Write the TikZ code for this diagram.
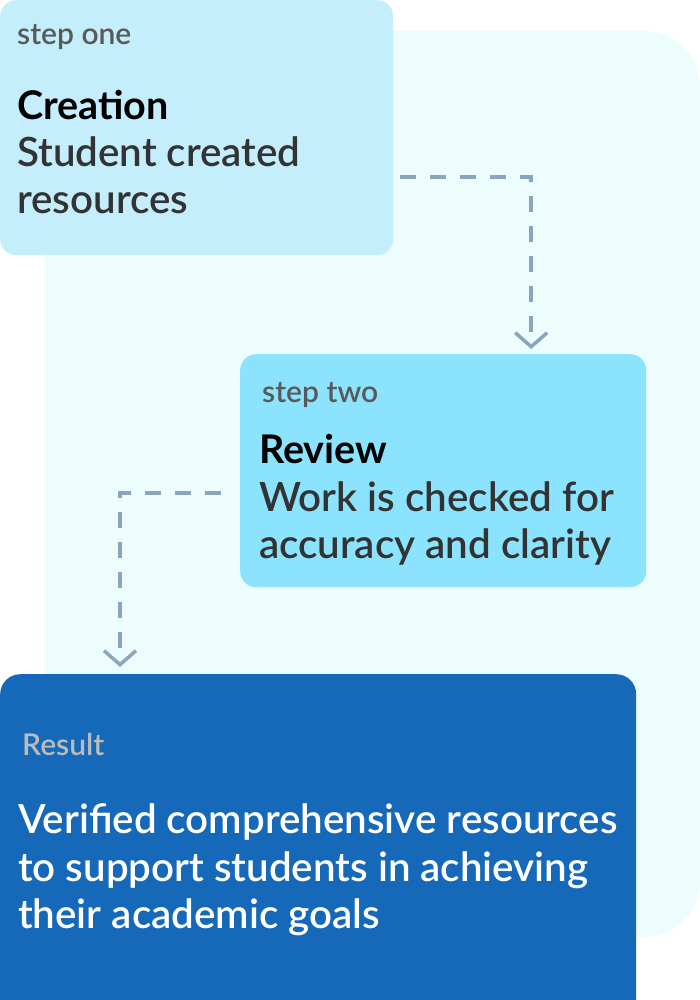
\documentclass[tikz,border=0pt]{standalone}
\usepackage{fontspec}
\setmainfont{Lato}
\newfontfamily\latosemi{Lato Semibold}
\usetikzlibrary{arrows.meta}
\definecolor{panel}{HTML}{EDFCFD}
\definecolor{boxone}{HTML}{C4EEFC}
\definecolor{boxtwo}{HTML}{8CE3FD}
\definecolor{boxres}{HTML}{1668B8}
\definecolor{flowc}{HTML}{8AA5BF}
\definecolor{lblc}{HTML}{595959}
\definecolor{ink}{HTML}{333333}
\definecolor{reslbl}{HTML}{BBBBBB}
\begin{document}
\begin{tikzpicture}[x=1pt,y=-1pt,
  box/.style={rounded corners=16pt,inner sep=0pt,anchor=north west},
  lbl/.style={anchor=base west,inner sep=0pt,text=lblc,font=\latosemi\fontsize{30}{36}\selectfont},
  ttl/.style={anchor=base west,inner sep=0pt,font=\bfseries\fontsize{39.5}{47}\selectfont},
  txt/.style={anchor=base west,inner sep=0pt,text=ink,font=\latosemi\fontsize{40.3}{48}\selectfont},
  flow/.style={draw=flowc,line width=3.5pt,dash pattern=on 16pt off 14pt,-{Straight Barb[length=14pt,width=32pt]}}]
\clip (0,0) rectangle (700,1000);
\fill[panel,rounded corners=55pt] (45,31) rectangle (700,937);
%
\node[box,fill=boxone,minimum width=393pt,minimum height=255pt] (one) at (0,0) {};
\node[lbl] (onelbl) at (17,45) {step one};
\node[ttl] (onettl) at (17,120) {Creation};
\node[txt] (onetxta) at (17,167) {Student created};
\node[txt] (onetxtb) at (17,214) {resources};
%
\node[box,fill=boxtwo,minimum width=406pt,minimum height=233pt] (two) at (240,354) {};
\node[lbl] (twolbl) at (262,402) {step two};
\node[ttl] (twottl) at (259,463) {Review};
\node[txt] (twotxta) at (259,511) {Work is checked for};
\node[txt] (twotxtb) at (259,558) {accuracy and clarity};
%
\node[box,fill=boxres,minimum width=636pt,minimum height=360pt,rounded corners=20pt] (res) at (0,674) {};
\node[lbl,text=reslbl] (reslbl) at (22,755) {Result};
\node[txt,text=white] (restxta) at (18,833) {Verified comprehensive resources};
\node[txt,text=white] (restxtb) at (18,881) {to support students in achieving};
\node[txt,text=white] (restxtc) at (18,928) {their academic goals};
%
\coordinate (a) at ([xshift=7pt,yshift=-49.5pt]one.east);
\coordinate (b) at ([xshift=88pt,yshift=5pt]two.north);
\coordinate (c) at ([xshift=-19pt,yshift=-22.5pt]two.west);
\coordinate (d) at ([xshift=120pt,yshift=7pt]res.north west);
\draw[flow] (a) -| (b);
\draw[flow] (c) -| (d);
\end{tikzpicture}
\end{document}
